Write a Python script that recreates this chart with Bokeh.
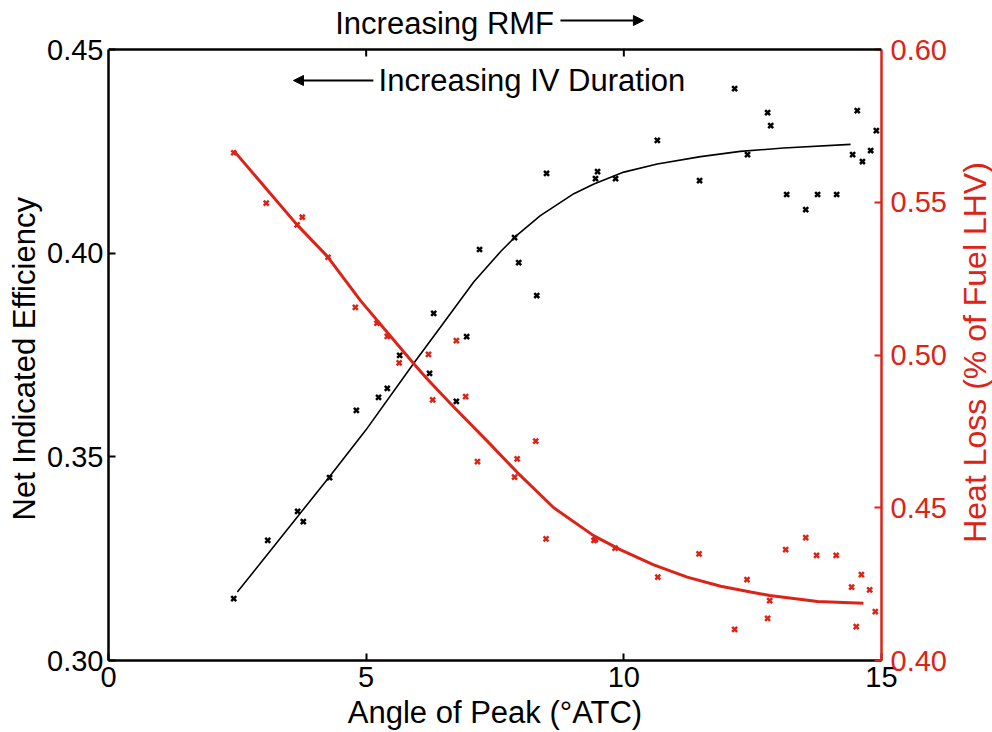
import math
from bokeh.plotting import figure
from bokeh.layouts import row
from bokeh.models import Range1d, LinearAxis, Label, Arrow, NormalHead, FixedTicker, Span, Title
from bokeh.embed import file_html
from bokeh.resources import INLINE

# ---- data ----
angle_eff = [2.43, 3.09, 3.67, 3.78, 4.29, 4.81, 5.24, 5.41, 5.65, 6.23, 6.31, 6.75,
             6.95, 7.20, 7.88, 7.96, 8.31, 8.50, 9.45, 9.49, 9.84, 10.65, 11.47, 12.15,
             12.40, 12.79, 12.85, 13.16, 13.53, 13.76, 14.13, 14.44, 14.53, 14.63, 14.79, 14.90]
efficiency = [0.3152, 0.3295, 0.3366, 0.3341, 0.3449, 0.3614, 0.3646, 0.3668, 0.3749, 0.3705,
              0.3852, 0.3636, 0.3795, 0.4009, 0.4038, 0.3977, 0.3896, 0.4196, 0.4183, 0.4200,
              0.4183, 0.4277, 0.4178, 0.4404, 0.4242, 0.4345, 0.4313, 0.4144, 0.4107, 0.4144,
              0.4144, 0.4242, 0.4350, 0.4225, 0.4252, 0.4301]

angle_hl = [2.43, 3.06, 3.66, 3.76, 4.26, 4.79, 5.21, 5.41, 5.64, 6.21, 6.29, 6.75,
            6.93, 7.16, 7.88, 7.93, 8.29, 8.49, 9.42, 9.45, 9.83, 10.66, 11.46, 12.15,
            12.39, 12.83, 12.79, 13.14, 13.53, 13.74, 14.12, 14.42, 14.51, 14.61, 14.77, 14.88]
heat_loss = [0.5662, 0.5497, 0.5426, 0.5451, 0.5320, 0.5156, 0.5104, 0.5061, 0.4974, 0.5002,
             0.4853, 0.5047, 0.4864, 0.4651, 0.4600, 0.4660, 0.4718, 0.4398, 0.4393, 0.4396,
             0.4368, 0.4273, 0.4349, 0.4102, 0.4265, 0.4196, 0.4138, 0.4363, 0.4402, 0.4344,
             0.4344, 0.4240, 0.4111, 0.4281, 0.4231, 0.4160]

fit_eff_x = [2.50, 4.28, 4.99, 5.92, 6.44, 7.09, 7.61, 7.90, 8.38, 9.03, 9.42, 10.00,
             10.65, 11.49, 12.26, 13.10, 14.40]
fit_eff_y = [0.3168, 0.3450, 0.3565, 0.3729, 0.3818, 0.3930, 0.4004, 0.4041, 0.4092, 0.4146,
             0.4170, 0.4199, 0.4219, 0.4237, 0.4250, 0.4258, 0.4267]

fit_hl_x = [2.43, 3.66, 4.25, 4.89, 5.92, 6.18, 6.70, 7.35, 7.93, 8.64, 9.42, 9.94, 10.58,
            11.23, 11.88, 12.46, 12.83, 13.76, 14.65]
fit_hl_y = [0.5669, 0.5426, 0.5322, 0.5178, 0.4972, 0.4922, 0.4830, 0.4718, 0.4616, 0.4500,
            0.4408, 0.4362, 0.4313, 0.4273, 0.4243, 0.4224, 0.4213, 0.4193, 0.4187]

x_ticks = [0, 5, 10, 15]
eff_ticks = [0.30, 0.35, 0.40, 0.45]
hl_ticks = [0.40, 0.45, 0.50, 0.55, 0.60]

RED = "#dc2318"
FONT = "Liberation Sans"
TICK_FS = "29px"
LABEL_FS = "31px"

# geometry: the plotting frame runs from the very top of the page down to the x axis;
# the axes box occupies the lower part of it, the space above holds the "RMF" note.
W, H, BOTTOM = 992, 732, 72
STRIP = 40                         # narrow strip on the far right for the red axis title
BOX_LEFT, BOX_RIGHT = 108, 881     # pixel columns of the axes box
BOX_TOP = 49                       # pixel row of the top of the axes box
frame_h = H - BOTTOM
box_h = frame_h - BOX_TOP
eff_span = eff_ticks[-1] - eff_ticks[0]
hl_span = hl_ticks[-1] - hl_ticks[0]
eff_top = eff_ticks[-1] + eff_span * BOX_TOP / box_h
hl_top = hl_ticks[-1] + hl_span * BOX_TOP / box_h
px_eff = eff_span / box_h          # data units per pixel, left scale

p = figure(width=W - STRIP, height=H, output_backend="svg", toolbar_location=None,
           x_range=Range1d(x_ticks[0], x_ticks[-1]), y_range=Range1d(eff_ticks[0], eff_top),
           min_border_left=BOX_LEFT, min_border_right=W - STRIP - BOX_RIGHT, min_border_top=0,
           min_border_bottom=BOTTOM)
p.extra_y_ranges = {"hl": Range1d(hl_ticks[0], hl_top)}
p.grid.visible = False
p.outline_line_color = None
p.background_fill_color = "white"
p.border_fill_color = "white"


def style(ax, color="black"):
    ax.axis_line_color = color
    ax.axis_line_width = 2.5
    ax.major_tick_line_color = color
    ax.major_tick_line_width = 2
    ax.major_tick_in = 7
    ax.major_tick_out = 0
    ax.minor_tick_line_color = None
    ax.major_label_text_color = color
    ax.major_label_text_font = FONT
    ax.major_label_text_font_size = TICK_FS
    ax.axis_label_text_color = color
    ax.axis_label_text_font = FONT
    ax.axis_label_text_font_size = LABEL_FS
    ax.axis_label_text_font_style = "normal"


xa = p.xaxis[0]
style(xa)
xa.ticker = FixedTicker(ticks=x_ticks)
xa.axis_label = "Angle of Peak (°ATC)"
xa.major_label_standoff = 6
xa.axis_label_standoff = 5

ya = p.yaxis[0]
style(ya)
ya.bounds = (eff_ticks[0], eff_ticks[-1])
ya.ticker = FixedTicker(ticks=eff_ticks)
ya.major_label_overrides = {t: f"{t:.2f}" for t in eff_ticks}
ya.major_label_standoff = 5

ra = LinearAxis(y_range_name="hl", ticker=FixedTicker(ticks=hl_ticks))
style(ra, RED)
ra.bounds = (hl_ticks[0], hl_ticks[-1])
ra.major_label_overrides = {t: f"{t:.2f}" for t in hl_ticks}
ra.major_label_standoff = 9
p.add_layout(ra, "right")

# left title, reading upwards, starting 140 px above the x axis
p.add_layout(Title(text="Net Indicated Efficiency", align="left", offset=140,
                   standoff=6, text_font=FONT, text_font_size=LABEL_FS,
                   text_font_style="normal", text_color="black"), "left")

# top edge of the axes box with inward ticks
p.add_layout(Span(location=eff_ticks[-1], dimension="width", line_color="black", line_width=2.5))
inner = x_ticks[1:-1]
p.segment(x0=inner, y0=[eff_ticks[-1]] * len(inner), x1=inner,
          y1=[eff_ticks[-1] - 7 * px_eff] * len(inner), line_color="black", line_width=2)

# fits
p.line(fit_eff_x, fit_eff_y, line_color="black", line_width=1.6)
p.line(fit_hl_x, fit_hl_y, line_color=RED, line_width=3, y_range_name="hl")

# data
p.scatter(angle_eff, efficiency, marker="x", size=7, line_width=2.5, line_color="black")
p.scatter(angle_hl, heat_loss, marker="x", size=7, line_width=2.5, line_color=RED, y_range_name="hl")

# annotations
rmf_y = eff_ticks[-1] + 26 * px_eff
iv_y = eff_ticks[-1] - 31 * px_eff
p.add_layout(Label(x=4.40, y=rmf_y, text="Increasing RMF", text_font=FONT,
                   text_font_size=LABEL_FS, text_align="left", text_baseline="middle",
                   text_color="black"))
p.add_layout(Arrow(x_start=8.77, y_start=rmf_y + 3 * px_eff, x_end=10.38, y_end=rmf_y + 3 * px_eff,
                   line_width=2, line_color="black",
                   end=NormalHead(size=10, fill_color="black", line_color="black")))
p.add_layout(Label(x=5.24, y=iv_y, text="Increasing IV Duration", text_font=FONT,
                   text_font_size=LABEL_FS, text_align="left", text_baseline="middle",
                   text_color="black"))
p.add_layout(Arrow(x_start=5.14, y_start=iv_y, x_end=3.59, y_end=iv_y, line_width=2,
                   line_color="black",
                   end=NormalHead(size=10, fill_color="black", line_color="black")))

# narrow strip holding the red axis title, reading upwards (pixel coordinates of the strip frame,
# whose frame is kept level with the main frame: rows 0..frame_h from the top)
q = figure(width=STRIP, height=H, output_backend="svg", toolbar_location=None,
           x_range=Range1d(0, STRIP), y_range=Range1d(0, frame_h), min_border=0,
           min_border_bottom=BOTTOM, x_axis_location=None, y_axis_location=None)
q.grid.visible = False
q.outline_line_color = None
q.background_fill_color = "white"
q.border_fill_color = "white"
RED_TITLE_CX = 974                 # page column of the red title's centre line
RED_TITLE_CY = 352                 # page row of the red title's centre
q.add_layout(Label(x=RED_TITLE_CX - (W - STRIP), y=frame_h - RED_TITLE_CY, angle=math.pi / 2,
                   text="Heat Loss (% of Fuel LHV)", text_font=FONT, text_font_size="32px",
                   text_align="center", text_baseline="middle", text_color=RED))

layout = row(p, q, spacing=0)
open("out.html", "w").write(file_html(layout, INLINE))
